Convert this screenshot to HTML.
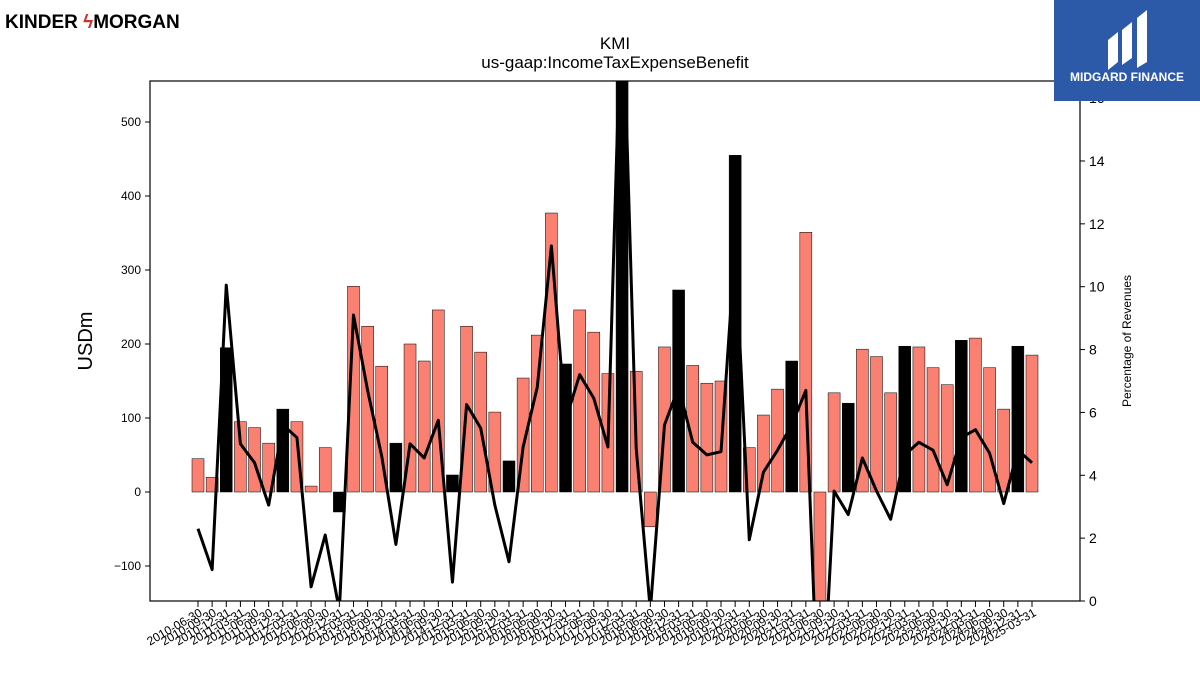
<!DOCTYPE html>
<html style="margin:0;width:1200px;height:675px;overflow:hidden"><head><meta charset="utf-8"><style>
body{margin:0;background:#fff;width:1200px;height:675px;overflow:hidden;font-family:"Liberation Sans",sans-serif;position:relative}
svg{display:block}
</style></head><body>
<svg width="1200" height="675" style="position:absolute;left:0;top:0">
<g id="plot"></g>
<text x="5" y="28" font-size="19" font-weight="bold" font-family="Liberation Sans">KINDER<tspan fill="#c33"> ϟ</tspan>MORGAN</text>
<rect x="1054" y="0" width="146" height="101" fill="#2d5aa8"/>
<path d="M1108 70 L1108 40 L1118 32 L1118 62 Z M1122 65 L1122 30 L1132 22 L1132 58 Z M1137 68 L1137 18 L1147 10 L1147 62 Z" fill="#fff"/>
<text x="1127" y="81" font-size="12" font-weight="bold" fill="#fff" text-anchor="middle">MIDGARD FINANCE</text>
<text x="615" y="49" font-size="17" text-anchor="middle">KMI</text>
<text x="615" y="68" font-size="17" text-anchor="middle">us-gaap:IncomeTaxExpenseBenefit</text>
<text transform="translate(92,341) rotate(-90)" font-size="20" text-anchor="middle">USDm</text>
<text transform="translate(1131,341) rotate(-90)" font-size="12" text-anchor="middle">Percentage of Revenues</text>
</svg>
<script>
const values=[45,20,195,95,87,66,112,95,8,60,-27,278,224,170,66,200,177,246,23,224,189,108,42,154,212,377,173,246,216,160,620,163,-47,196,273,171,147,150,455,60,104,139,177,351,-200,134,120,193,183,134,197,196,168,145,205,208,168,112,197,185];
const pct=[2.3,1.0,10.05,5.0,4.4,3.05,5.6,5.2,0.45,2.1,-0.3,9.1,6.7,4.6,1.8,5.0,4.55,5.75,0.6,6.25,5.5,3.05,1.25,4.9,6.8,11.3,5.75,7.2,6.45,4.9,20,4.85,-0.3,5.6,6.8,5.05,4.65,4.75,11.3,1.95,4.1,4.8,5.6,6.7,-5,3.5,2.75,4.55,3.5,2.6,4.65,5.05,4.8,3.7,5.2,5.45,4.7,3.1,4.8,4.4];
const leftTicks=[-100,0,100,200,300,400,500];
const rightTicks=[0,2,4,6,8,10,12,14,16];
const labels=[];
(function(){let y=2010,m=6;const ends={3:'31',6:'30',9:'30',12:'31'};for(let i=0;i<values.length;i++){labels.push(y+'-'+String(m).padStart(2,'0')+'-'+ends[m]);m+=3;if(m>12){m=3;y++;}}})();
const NS='http://www.w3.org/2000/svg';
const g=document.getElementById('plot');
const L=150,R=1080,T=81,B=601;
const yL=v=>492-0.74*v, yR=p=>601-31.43*p, xB=i=>198+i*(1032-198)/(values.length-1);
function mk(t,a,parent){const e=document.createElementNS(NS,t);for(const k in a)e.setAttribute(k,a[k]);(parent||g).appendChild(e);return e;}
const cp=mk('clipPath',{id:'c'});mk('rect',{x:L,y:T,width:R-L,height:B-T},cp);
const bars=mk('g',{'clip-path':'url(#c)'});
values.forEach((v,i)=>{const y0=yL(0),y1=yL(v);
const r=mk('rect',{x:xB(i)-6,y:Math.min(y0,y1),width:12,height:Math.abs(y1-y0),fill:i%4==2?'#000':'#fa8072',stroke:'#000','stroke-width':0.5},bars);

});
const pl=mk('polyline',{points:pct.map((p,i)=>xB(i)+','+yR(p)).join(' '),fill:'none',stroke:'#000','stroke-width':3,'stroke-linejoin':'round','clip-path':'url(#c)'});


const fr=mk('rect',{x:L,y:T,width:R-L,height:B-T,fill:'none',stroke:'#000','stroke-width':1.2});


leftTicks.forEach(t=>{const y=yL(t);mk('line',{x1:L-5,x2:L,y1:y,y2:y,stroke:'#000'});
const tx=mk('text',{x:L-9,y:y+4,'font-size':12,'text-anchor':'end'});tx.textContent=t<0?'−'+(-t):t;

});
rightTicks.forEach(t=>{const y=yR(t);mk('line',{x1:R,x2:R+5,y1:y,y2:y,stroke:'#000'});
const tx=mk('text',{x:R+9,y:y+5,'font-size':14});tx.textContent=t;

});
labels.forEach((l,i)=>{const x=xB(i);mk('line',{x1:x,x2:x,y1:B,y2:B+6,stroke:'#000'});
const tx=mk('text',{transform:`translate(${x+5},${B+14}) rotate(-30)`,'font-size':12,'text-anchor':'end'});tx.textContent=l;

});
</script>
</body></html>
